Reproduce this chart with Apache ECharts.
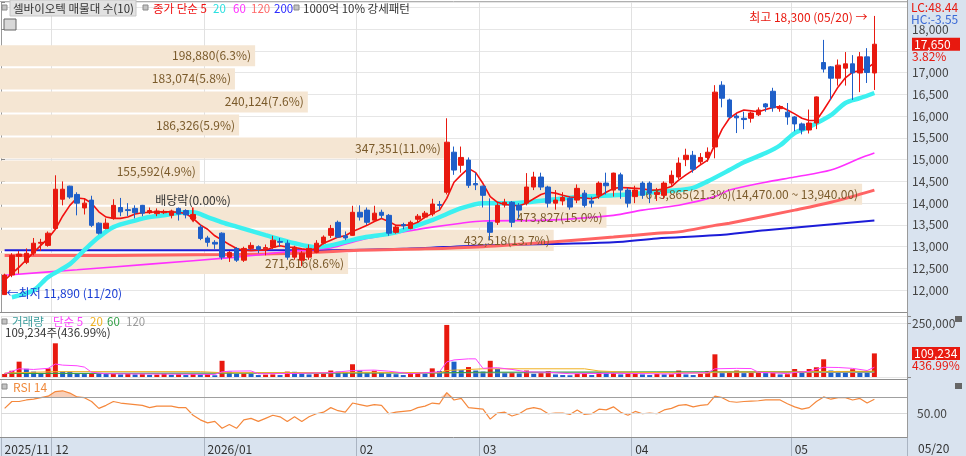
<!DOCTYPE html>
<html><head><meta charset="utf-8">
<script src="https://cdn.jsdelivr.net/npm/echarts/dist/echarts.min.js"></script>
<style>html,body{margin:0;padding:0;background:#fff}#c{width:966px;height:456px}</style>
</head><body><div id="c"></div>
<script>
// ---- trading days ----
const novDays=[20,21,24,25,26,27,28];
const decDays=[1,2,3,4,5,8,9,10,11,12,15,16,17,18,19,22,23,24,26,29,30];
const janDays=[2,5,6,7,8,9,12,13,14,15,16,19,20,21,22,23,26,27,28,29,30];
const febDays=[2,3,4,5,6,9,10,11,12,13,19,20,23,24,25,26,27];
const marDays=[3,4,5,6,9,10,11,12,13,16,17,18,19,20,23,24,25,26,27,30,31];
const aprDays=[1,2,3,6,7,8,9,10,13,14,15,16,17,20,21,22,23,24,27,28,29,30];
const mayDays=[4,6,7,8,11,12,13,14,15,18,19,20];

// ---- prices ----
const open=[11900,12350,12780,12640,12850,13080,13030,13420,14090,14390,
14200,13890,14070,13540,13420,13650,13900,13850,13880,13950,
13780,13760,13780,13720,13880,13830,13640,13450,13200,13100,
13310,12760,12960,12690,12960,13000,12950,12990,13120,13080,
12760,12690,12760,12870,13080,13260,13560,13250,13260,13790,
13840,13610,13790,13720,13330,13510,13420,13630,13680,13750,
13970,14250,15170,14870,14990,14450,14390,13560,13560,13960,
14020,13950,14000,14370,14600,14370,14000,14050,14110,14070,
14230,14050,14180,14460,14300,14650,14300,14150,14460,14460,
14200,14180,14460,14600,15000,15100,14950,15050,15290,16710,
16370,16000,15950,15950,16030,16280,16570,16170,16090,15980,
15820,15680,15840,17230,17130,16870,17100,17200,16990,17360,16990];
const close=[12350,12800,12830,12850,13080,13100,13310,14320,14320,14140,
14000,14000,13490,13310,13540,13950,13800,13830,13780,13770,
13830,13820,13810,13820,13750,13730,13740,13190,13100,13060,
12760,12870,12690,12960,13030,12940,12980,13150,13100,12760,
12990,12850,12960,13080,13220,13420,13220,13200,13790,13680,
13560,13770,13720,13310,13450,13480,13560,13700,13770,13980,
13950,15400,14760,15050,14410,14420,14180,13330,13950,14020,
13560,13840,14370,14600,14370,14000,14070,14130,13910,14340,
13950,14000,14460,14400,14690,14300,14000,14300,14180,14230,
14250,14460,14640,14920,15100,14780,15050,15170,16550,16410,
15980,15960,15920,16070,16140,16210,16190,16220,15980,15820,
15680,15840,16440,17080,16870,17170,17200,16990,17360,17000,17650];
const low=[11890,12300,12380,12600,12800,12900,13000,13400,13950,14100,
13720,13740,13450,13280,13400,13620,13700,13700,13650,13700,
13750,13700,13750,13650,13600,13650,13600,13150,13000,12950,
12700,12650,12650,12650,12900,12850,12800,12950,13000,12700,
12700,12550,12700,12850,13050,13200,13200,13150,13250,13600,
13500,13600,13650,13250,13300,13400,13400,13550,13650,13700,
13850,14200,14650,14700,14350,14300,13900,13150,13500,13900,
13450,13650,13950,14300,14300,13900,13850,13950,13850,14000,
13900,13900,14100,14200,14150,14100,13900,14000,14100,14000,
14050,14100,14400,14550,14850,14700,14900,14950,15030,16200,
15950,15610,15700,15850,16000,16100,16100,16100,15800,15650,
15580,15600,15700,17000,16370,16700,16700,16370,16550,16760,16600];
const high=[12380,12850,12900,12960,13200,13180,13350,14640,14500,14400,
14250,14115,14170,13560,13650,14090,14120,14000,13950,13960,
13900,13880,13850,13850,13900,13860,13900,13500,13250,13150,
13330,12900,12990,13000,13100,13030,13050,13250,13200,13150,
13020,12900,13050,13150,13260,13500,13600,13350,13940,13950,
13900,13940,13850,13750,13500,13550,13600,13750,13820,14100,
14050,15950,15300,15300,15050,14700,14400,14110,14000,14100,
14050,14000,14690,14720,14700,14400,14300,14250,14150,14430,
14300,14150,14500,14700,14700,14700,14350,14400,14500,14500,
14350,14500,14750,15050,15250,15200,15150,15280,16710,16800,
16400,16050,16100,16100,16200,16300,16650,16250,16300,16000,
15850,16150,16450,17750,17150,17300,17470,17400,17470,17560,18300];

// ---- moving averages ----
const ma5=[12230,12380,12530,12700,12870,13030,13190,13400,13700,13950,
14120,14100,14000,13800,13680,13650,13650,13680,13750,13780,
13790,13800,13800,13800,13790,13760,13650,13500,13400,13250,
13150,13050,12960,12920,12910,12920,12920,12980,13020,12990,
12980,12950,12930,12950,13080,13150,13220,13250,13350,13420,
13490,13580,13650,13580,13490,13490,13500,13560,13680,13760,
13840,14110,14480,14650,14800,14700,14450,14150,14020,13970,
13950,13940,14000,14100,14200,14250,14230,14180,14140,14130,
14120,14100,14150,14250,14340,14360,14350,14340,14330,14300,
14300,14330,14380,14530,14650,14760,14880,14990,15350,15700,
15950,16070,16140,16120,16100,16150,16200,16220,16140,16050,
15950,15900,15900,16140,16400,16670,16880,17010,17040,17100,17220];
const ma20=[[1,11840],[4,12000],[6,12300],[9,12600],[11,12920],[13,13220],[15,13450],[18,13600],[20,13680],[22,13720],[25,13790],[26,13790],[28,13680],[30,13560],[32,13460],[36,13265],[40,13080],[43,12990],[45,13030],[49,13195],[54,13330],[59,13610],[63,13885],[66,14000],[70,14000],[75,14070],[79,14140],[84,14180],[88,14230],[93,14300],[95,14350],[97,14500],[100,14760],[102,14940],[105,15150],[107,15330],[109,15610],[111,15750],[114,16020],[116,16300],[118,16410],[120,16530]];
const ma60=[[0,12345],[10,12470],[20,12600],[32,12760],[40,12900],[45,12970],[49,13150],[54,13310],[59,13450],[63,13540],[66,13590],[75,13610],[84,13720],[88,13840],[93,13950],[98,14150],[100,14300],[105,14480],[109,14600],[114,14760],[118,15030],[120,15150]];
const ma120=[[0,12800],[15,12800],[30,12820],[40,12850],[49,12920],[58,12950],[66,13000],[75,13100],[84,13220],[90,13310],[93,13340],[98,13490],[100,13540],[109,13840],[114,14020],[120,14300]];
const ma200=[[0,12920],[45,12920],[55,12950],[66,13030],[75,13060],[84,13100],[90,13190],[98,13260],[105,13380],[120,13600]];

// ---- volume ----
const volume=[14000,29000,71000,38000,25000,14000,40000,156000,25000,24000,
14000,13500,15000,14500,14000,15000,12000,14000,12000,13000,
10000,11000,15000,10000,13000,9000,14000,12000,14000,8000,
75000,25000,14000,15500,15000,9000,11000,12000,9000,25000,
24000,14000,12000,14000,15000,30000,25000,22000,59000,30000,
18000,29000,18000,15000,13000,9000,17000,17500,15000,40000,
28000,241000,71000,32000,46000,30000,25000,75000,37000,18000,
19000,17000,30000,15000,18000,27000,12000,9000,8000,15000,
15500,9000,22000,19000,19500,12000,14000,15000,12000,9000,
14000,12000,13000,30000,12000,9000,14000,28000,105000,18000,
22000,30000,18000,19000,19500,18000,18500,12000,13000,37000,
25000,37000,45000,82000,30000,28000,25000,36000,25500,24997,109234];
const volMa5=[[0,14000],[2,38000],[4,35000],[6,40000],[7,60000],[8,55000],[10,52000],[11,46000],[12,22000],[14,15000],[29,12000],[30,24000],[31,27000],[34,28000],[35,15000],[39,16000],[45,20000],[48,30000],[51,32000],[53,27000],[56,15000],[59,22000],[60,24000],[61,70000],[62,79000],[64,84000],[65,84000],[66,40000],[67,42000],[68,43000],[70,35000],[72,24000],[75,22000],[78,15000],[84,17000],[92,14000],[93,17000],[97,20000],[98,38000],[101,40000],[103,39000],[104,22000],[108,16000],[109,21000],[111,26000],[113,45000],[115,44000],[117,40000],[119,30000],[120,45000]];
const volMa20=[[0,18000],[7,25000],[27,25000],[30,20000],[40,20000],[50,22000],[60,20000],[61,30000],[66,38000],[80,38000],[82,28000],[86,22000],[97,18000],[98,23000],[110,24000],[120,27000]];
const volMa60=[[0,16000],[30,18000],[60,19000],[65,22000],[90,24000],[120,25000]];
const volMa120=[[0,17000],[120,21000]];

// ---- RSI 14 ----
const rsi=[56,65,65,67,68,70,72,78,79,76,
71,70,65,56,60,65,63,62,61,60,
57,59,59,59,57,57,47,41,37,39,
30,35,30,41,43,39,43,47,45,39,
45,39,45,49,51,57,53,51,63,61,
59,61,60,49,51,52,53,57,59,63,
62,76.5,67,69,57,56,55,42,50,51,
46,49,55,57,55,49,50,50,48,54,
48,49,55,54,58,51,47,52,49,50,
49,54,56,60,61,58,60,61,72,70,
65,64,65,65.5,66,67,67,67,62,58,
55,57,65,71,68,70,70,67,69,63,68];

// ---- volume-at-price bands (매물대 10) ----
const bandEdges=[17650,17120,16590,16060,15530,15000,14470,13940,13410,12880,12350];
const bandVol=[198880,183074,240124,186326,347351,155592,673865,473827,432518,271616];
const bandPct=[6.3,5.8,7.6,5.9,11.0,4.9,21.3,15.0,13.7,8.6];
const exDivIndex=26;
const emptySlots=4;

// ---------- build ----------
const dates=[];
[[2025,11,novDays],[2025,12,decDays],[2026,1,janDays],[2026,2,febDays],[2026,3,marDays],[2026,4,aprDays],[2026,5,mayDays]]
 .forEach(([y,m,ds])=>ds.forEach(d=>dates.push(y+'/'+String(m).padStart(2,'0')+'/'+String(d).padStart(2,'0'))));
const cats=dates.concat(Array(emptySlots).fill(''));
const N=dates.length;
const monthStarts=new Set();
dates.forEach((d,i)=>{ if(i===0||d.slice(0,7)!==dates[i-1].slice(0,7)) monthStarts.add(i); });
const monthFn=(i)=>monthStarts.has(i);
const fmt=(v)=>Number(v).toLocaleString('en-US');
const fmt2=(v)=>Number(v).toLocaleString('en-US',{minimumFractionDigits:2,maximumFractionDigits:2});

const RED='#e8190f', BLUE='#1f5fc8', CLEAR='rgba(0,0,0,0)';
const FONT='"Noto Sans CJK KR","Noto Sans",sans-serif';
const candles=dates.map((d,i)=>[open[i],close[i],low[i],high[i]]);
let maxIdx=0,minIdx=0;
high.forEach((v,i)=>{if(v>high[maxIdx])maxIdx=i;});
low.forEach((v,i)=>{if(v<low[minIdx])minIdx=i;});
const lastC=close[N-1], prevC=close[N-2];
const chgPct=((lastC-prevC)/prevC*100).toFixed(2);
const lc=((lastC-low[minIdx])/low[minIdx]*100).toFixed(2);
const hc=((lastC-high[maxIdx])/high[maxIdx]*100).toFixed(2);
const lastV=volume[N-1], volPct=(lastV/volume[N-2]*100).toFixed(2);
const md=(d)=>d.slice(5);
const maxBand=bandVol.indexOf(Math.max(...bandVol));
const bandLabel=(k)=>fmt(bandVol[k])+'('+bandPct[k].toFixed(1)+'%)'+(k===maxBand?'('+fmt2(bandEdges[k])+' ~ '+fmt2(bandEdges[k+1])+')':'');
const bandData=bandVol.map((v,k)=>[v,bandEdges[k],bandEdges[k+1],k]);

const chart=echarts.init(document.getElementById('c'),null,{renderer:'canvas'});
const G=[{left:1,right:59,top:2,height:310},{left:1,right:59,top:316,height:61},{left:1,right:59,top:380,height:57}];
const splitX={show:true,interval:monthFn,lineStyle:{color:'#e1e1e1',width:1}};
const hidden={show:false};

const T=(x,y,text,fill,size,extra)=>Object.assign({type:'text',x:x,y:y,z:100,style:{text:text,fill:fill,font:(size||11.5)+'px '+FONT,verticalAlign:'middle'}},extra||{});
const SQ=(x,y)=>({type:'rect',z:100,shape:{x:x,y:y,width:5,height:5},style:{fill:'#c4c4c4',stroke:'#8a8a8a',lineWidth:1}});
const LN=(x1,y1,x2,y2,c)=>({type:'line',z:90,shape:{x1:x1,y1:y1,x2:x2,y2:y2},style:{stroke:c,lineWidth:1}});

const lineS=(name,data,color,width,extra)=>Object.assign({name:name,type:'line',xAxisIndex:0,yAxisIndex:0,data:data,showSymbol:false,symbol:'none',silent:true,z:3,lineStyle:{color:color,width:width},itemStyle:{color:color}},extra||{});
const vLine=(data,color)=>({type:'line',xAxisIndex:2,yAxisIndex:1,data:data,showSymbol:false,symbol:'none',silent:true,z:4,lineStyle:{color:color,width:1}});
const sideRich={e:{height:12,fontSize:12},a:{backgroundColor:RED,color:'#fff',width:44,height:13,lineHeight:13,fontSize:12,padding:[0,2]},b:{color:RED,height:12,lineHeight:12,fontSize:12}};

const option={
 animation:false,
 textStyle:{fontFamily:FONT},
 grid:G,
 xAxis:[
  {type:'category',gridIndex:0,data:cats,boundaryGap:true,axisLine:hidden,axisTick:hidden,axisLabel:hidden,splitLine:splitX},
  {type:'value',gridIndex:0,min:0,max:709000,show:false},
  {type:'category',gridIndex:1,data:cats,boundaryGap:true,axisLine:hidden,axisTick:hidden,axisLabel:hidden,splitLine:splitX},
  {type:'category',gridIndex:2,data:cats,boundaryGap:true,axisLine:hidden,
   axisTick:{show:true,interval:monthFn,length:19,lineStyle:{color:'#aab4c2'}},
   axisLabel:{show:true,interval:monthFn,align:'left',margin:6,color:'#333',fontSize:12,
     formatter:(v,i)=>{ if(!v) return ''; return (i===0||v.slice(5,7)==='01')?v.slice(0,7):v.slice(5,7); }},
   splitLine:splitX}
 ],
 yAxis:[
  {type:'value',gridIndex:0,position:'right',min:11500,max:18620,interval:500,
   axisLine:{show:true,lineStyle:{color:'#9a9a9a'}},axisTick:{show:true,length:4,lineStyle:{color:'#888'}},
   axisLabel:{color:'#444',fontSize:12,margin:5,formatter:(v)=>(v<12000||v>18000||Math.abs(v-lastC)<300)?'':fmt(v)},
   splitLine:{show:true,lineStyle:{color:'#e6e6e6'}}},
  {type:'value',gridIndex:1,position:'right',min:0,max:282400,interval:250000,
   axisLine:{show:true,lineStyle:{color:'#9a9a9a'}},axisTick:{show:true,length:4,lineStyle:{color:'#888'}},
   axisLabel:{color:'#444',fontSize:12,margin:5,formatter:(v)=>(v===250000)?fmt(v):''},
   splitLine:{show:true,lineStyle:{color:'#e6e6e6'}}},
  {type:'value',gridIndex:2,position:'right',min:18.6,max:93.1,
   axisLine:{show:true,lineStyle:{color:'#9a9a9a'}},axisTick:hidden,axisLabel:hidden,splitLine:hidden}
 ],
 series:[
  {type:'custom',xAxisIndex:1,yAxisIndex:0,z:1,silent:true,data:bandData,encode:{x:0,y:[1,2]},
   renderItem:(params,api)=>{
     const v=api.value(0),hi=api.value(1),lo=api.value(2);
     const p1=api.coord([0,hi]),p2=api.coord([v,lo]);
     return {type:'rect',shape:{x:p1[0]-1,y:p1[1]+1,width:p2[0]-p1[0]+1,height:p2[1]-p1[1]-2},style:{fill:'#f5e6d3'}};
   }},
  {type:'custom',xAxisIndex:1,yAxisIndex:0,z:5,silent:true,data:bandData,encode:{x:0,y:[1,2]},
   renderItem:(params,api)=>{
     const v=api.value(0),hi=api.value(1),lo=api.value(2),k=api.value(3);
     const p1=api.coord([0,hi]),p2=api.coord([v,lo]);
     return {type:'text',x:p2[0]-4,y:(p1[1]+p2[1])/2,style:{text:bandLabel(k),align:'right',verticalAlign:'middle',fill:'#7a5a2a',font:'12px '+FONT}};
   }},
  lineS('200',ma200,'#1c1cd8',2,{smooth:0.3}),
  lineS('120',ma120,'#ff6464',3,{smooth:0.3}),
  lineS('60',ma60,'#ff30ff',1.6,{smooth:0.3}),
  lineS('20',ma20,'#3cf0f0',4.5,{smooth:0.3}),
  lineS('5',ma5,'#f21010',1.6),
  {type:'candlestick',xAxisIndex:0,yAxisIndex:0,data:candles,barWidth:5,z:6,silent:true,
   itemStyle:{color:RED,color0:BLUE,borderColor:RED,borderColor0:BLUE,borderWidth:1},
   markPoint:{silent:true,data:[
     {coord:[maxIdx,high[maxIdx]],symbol:'circle',symbolSize:2,itemStyle:{color:CLEAR},
       label:{show:true,position:'left',distance:6,offset:[0,2],color:RED,fontSize:12,
       formatter:'최고 '+fmt(high[maxIdx])+' ('+md(dates[maxIdx])+') →'}},
     {coord:[minIdx,low[minIdx]],symbol:'circle',symbolSize:2,itemStyle:{color:CLEAR},
       label:{show:true,position:'right',distance:1,offset:[0,-2],color:'#1a3ed4',fontSize:12,
       formatter:'←최저 '+fmt(low[minIdx])+' ('+md(dates[minIdx])+')'}},
     {coord:[exDivIndex,high[exDivIndex]],symbol:'path://M3.4,0 L4.6,0 L4.6,10 L8,10 L4,15 L0,10 L3.4,10 Z',symbolSize:[7,15],symbolOffset:[0,7.5],
       itemStyle:{color:RED},label:{show:true,position:'top',distance:1,color:'#333',fontSize:12,formatter:'배당락(0.00%)'}}
   ]},
   markLine:{silent:true,symbol:'none',lineStyle:{color:CLEAR,width:1},data:[{yAxis:lastC}],
     label:{show:true,position:'end',distance:5,formatter:'{e|}\n{a|'+fmt(lastC)+'}\n{b|'+chgPct+'%}',rich:sideRich}}
  },
  {type:'bar',xAxisIndex:2,yAxisIndex:1,data:volume,barWidth:5,z:3,silent:true,
   itemStyle:{color:(p)=>(p.dataIndex>0&&volume[p.dataIndex]<volume[p.dataIndex-1])?BLUE:RED},
   markLine:{silent:true,symbol:'none',lineStyle:{color:CLEAR,width:1},data:[{yAxis:lastV}],
     label:{show:true,position:'end',distance:5,formatter:'{e|}\n{a|'+fmt(lastV)+'}\n{b|'+volPct+'%}',rich:sideRich}}
  },
  vLine(volMa120,'#a0a0a0'),
  vLine(volMa60,'#2f9e44'),
  vLine(volMa20,'#f0b020'),
  vLine(volMa5,'#ff40ff'),
  {type:'line',xAxisIndex:3,yAxisIndex:2,data:rsi.map(v=>Math.max(v,70)),showSymbol:false,symbol:'none',silent:true,z:2,
   lineStyle:{width:0},areaStyle:{origin:70,color:'rgba(240,150,100,0.65)'}},
  {type:'line',xAxisIndex:3,yAxisIndex:2,data:rsi,showSymbol:false,symbol:'none',silent:true,z:3,
   lineStyle:{color:'#f5883c',width:1.2},
   markLine:{silent:true,symbol:'none',data:[
     {yAxis:70,lineStyle:{color:'#a0a0a0',width:1,type:'solid'},label:{show:false}},
     {yAxis:50,lineStyle:{color:'#dadada',width:1,type:'solid'},label:{show:true,position:'end',distance:10,color:'#444',fontSize:12,formatter:'50.00'}}
   ]}}
 ],
 graphic:[
  {type:'rect',z:-10,shape:{x:907,y:0,width:59,height:456},style:{fill:'#d9e3ef'}},
  {type:'rect',z:-10,shape:{x:0,y:438,width:907,height:18},style:{fill:'#d9e3ef'}},
  LN(0,1.5,907,1.5,'#b0b0b0'),
  LN(0,312.5,907,312.5,'#8e8e8e'),
  LN(0,379.5,907,379.5,'#8e8e8e'),
  LN(0,437.5,907,437.5,'#8e8e8e'),
  LN(907.5,0,907.5,438,'#9a9a9a'),
  SQ(2,5),
  {type:'rect',z:99,shape:{x:10,y:0,width:126,height:16},style:{fill:'#e2e2e2',stroke:'#c6c6c6',lineWidth:1}},
  T(13,8.5,'셀바이오텍 매물대 수(10)','#333'),
  SQ(143,5),
  T(153,8.5,'종가 단순 5','#f01010'),
  T(213,8.5,'20','#2ae0e0'),
  T(233,8.5,'60','#ff30ff'),
  T(251,8.5,'120','#ff6a6a'),
  T(274,8.5,'200','#2a2aff'),
  SQ(294,5),
  T(303,8.5,'1000억 10% 강세패턴','#333'),
  {type:'rect',z:99,shape:{x:4,y:19,width:12,height:11},style:{fill:'#d8d8d8',stroke:'#666',lineWidth:1}},
  LN(6,22.5,14,22.5,'#777'),LN(6,25.5,14,25.5,'#777'),LN(8.5,21,8.5,29,'#777'),LN(11.5,21,11.5,29,'#777'),
  T(911,7,'LC:'+lc,RED,12),
  T(911,19,'HC:'+hc,'#3a6ad6',12),
  SQ(2,319),
  T(12,322,'거래량','#3a9c9c'),
  T(53,322,'단순 5','#ff40ff'),
  T(90,322,'20','#f0b020'),
  T(107,322,'60','#2f9e44'),
  T(126,322,'120','#999'),
  T(5,333,fmt(lastV)+'주('+volPct+'%)','#333'),
  SQ(2,384),
  T(13,387,'RSI 14','#f08a3c',12),
  {type:'rect',z:100,shape:{x:955,y:316,width:7,height:6},style:{fill:'#666'}},
  {type:'rect',z:100,shape:{x:955,y:383,width:7,height:6},style:{fill:'#666'}},
  T(918,448,md(dates[N-1]),'#333',12)
 ]
};
chart.setOption(option);
</script></body></html>
